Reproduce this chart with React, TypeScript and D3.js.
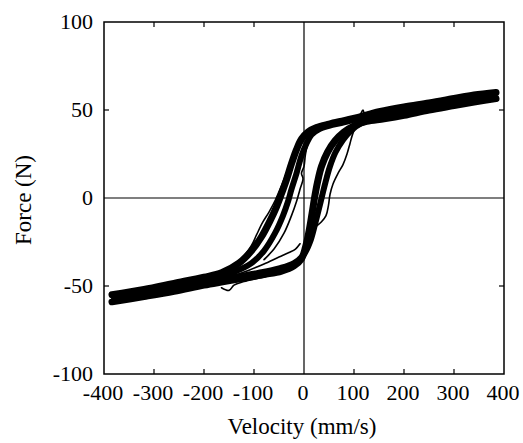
import React from "react";
import * as d3 from "d3";

type P = [number, number];

// Velocity (mm/s), Force (N) pairs
const decA: P[] = [[384,60],[340,58.5],[300,56.5],[250,54],[200,51.8],[150,49],[110,46],[80,44],[50,42],[25,40],[8,37.5],[-5,33.5],[-15,27.5],[-25,19.5],[-35,10.5],[-45,2.5],[-55,-5],[-68,-13],[-85,-22],[-105,-30],[-130,-37],[-165,-42.5],[-200,-45],[-260,-48.5],[-320,-52],[-384,-55]];
const decB: P[] = [[380,59],[300,55.5],[200,50.5],[120,46],[80,43],[50,41],[30,39],[15,36],[5,31],[-5,24],[-15,14],[-25,5],[-32,-2],[-42,-10],[-58,-20],[-80,-30],[-105,-37],[-140,-42],[-200,-46.5],[-300,-52],[-380,-56]];
const incA: P[] = [[-384,-59],[-320,-56],[-260,-53],[-200,-49.5],[-160,-47.5],[-120,-45.5],[-80,-43.5],[-45,-41.5],[-20,-38.5],[-5,-34.5],[3,-28],[10,-19],[16,-9],[21,0],[27,9],[35,18],[47,26],[62,32.5],[80,37.5],[100,41],[125,43.5],[160,45],[200,47],[250,50],[300,52.5],[340,54.5],[384,56.5]];
const incB: P[] = [[-380,-57.5],[-300,-54],[-200,-48],[-140,-45],[-90,-42.5],[-50,-40],[-20,-37],[0,-32],[12,-25],[22,-15],[30,-6],[36,1],[43,9],[52,18],[63,26],[78,33],[95,38.5],[115,42.5],[140,45],[200,48.5],[300,54],[380,57.5]];

const thinLeft: P[] = [[30,40.5],[10,37.5],[-5,33],[-17,28],[-30,18],[-45,7],[-57,-1],[-70,-8],[-83,-14],[-95,-21],[-105,-27],[-120,-33],[-140,-39],[-165,-44]];
const thinRight: P[] = [[-15,-37],[-3,-32],[5,-24],[12,-20],[23,-16.5],[35,-13.5],[44,-10],[49,-4],[52,2],[58,8],[68,14],[78,19],[86,25],[92,31],[97,36],[105,41],[120,44.5]];
const thinLow: P[] = [[-165,-51],[-150,-52.5],[-140,-49.5],[-120,-47.5],[-90,-45.5],[-60,-43.5],[-35,-41.5],[-15,-39]];
const thinInnerLow: P[] = [[-140,-44],[-110,-41],[-80,-37.5],[-50,-33.5],[-30,-31],[-17,-29],[-8,-26]];
const thinMid: P[] = [[20,38],[10,33],[3,25],[0,18],[-5,14],[-2,11],[-8,5],[-15,-2],[-25,-10],[-40,-20],[-60,-29],[-80,-35]];
const thinSpike: P[] = [[95,43],[110,46],[118,50],[122,47],[135,47]];

const xTicks = [-400, -300, -200, -100, 0, 100, 200, 300, 400];
const yTicks = [-100, -50, 0, 50, 100];

const W = 523, H = 443;
const L = 104, R = 504, T = 22, B = 374;

export default function App() {
  const x = d3.scaleLinear().domain([-400, 400]).range([L, R]);
  const y = d3.scaleLinear().domain([-100, 100]).range([B, T]);
  const line = d3.line<P>().x(d => x(d[0])).y(d => y(d[1])).curve(d3.curveCatmullRom.alpha(0.5));
  const font = "'Liberation Serif', 'Times New Roman', serif";
  const thick = [decA, decB, incA, incB];
  const widths = [7, 6, 7, 6];
  const thin = [thinLeft, thinRight, thinLow, thinInnerLow, thinMid, thinSpike];
  const tl = 5;
  return (
    <svg width={W} height={H} style={{ position: "absolute", left: 0, top: 0, background: "#fff" }}>
      <rect x={0} y={0} width={W} height={H} fill="#fff" />
      <line x1={x(0)} x2={x(0)} y1={T} y2={B} stroke="#000" strokeWidth={1.2} />
      <line x1={L} x2={R} y1={y(0)} y2={y(0)} stroke="#000" strokeWidth={1.2} />
      {thick.map((d, i) => (
        <path key={"k" + i} d={line(d) || ""} fill="none" stroke="#000" strokeWidth={widths[i]} strokeLinecap="round" strokeLinejoin="round" />
      ))}
      {thin.map((d, i) => (
        <path key={"t" + i} d={line(d) || ""} fill="none" stroke="#000" strokeWidth={1.6} strokeLinecap="round" strokeLinejoin="round" />
      ))}
      <rect x={L} y={T} width={R - L} height={B - T} fill="none" stroke="#000" strokeWidth={1.5} />
      {xTicks.filter(v => v > -400 && v < 400 && v !== 0).map(v => (
        <g key={"xt" + v}>
          <line x1={x(v)} x2={x(v)} y1={B} y2={B - tl} stroke="#000" strokeWidth={1.2} />
          <line x1={x(v)} x2={x(v)} y1={T} y2={T + tl} stroke="#000" strokeWidth={1.2} />
        </g>
      ))}
      {yTicks.filter(v => v > -100 && v < 100 && v !== 0).map(v => (
        <g key={"yt" + v}>
          <line x1={L} x2={L + tl} y1={y(v)} y2={y(v)} stroke="#000" strokeWidth={1.2} />
          <line x1={R} x2={R - tl} y1={y(v)} y2={y(v)} stroke="#000" strokeWidth={1.2} />
        </g>
      ))}
      {xTicks.map(v => (
        <text key={"xl" + v} x={x(v) - 1} y={400} textAnchor="middle" fontFamily={font} fontSize={22} fill="#000">{v}</text>
      ))}
      {yTicks.map(v => (
        <text key={"yl" + v} x={93} y={y(v) + 7} textAnchor="end" fontFamily={font} fontSize={22} fill="#000">{v}</text>
      ))}
      <text x={302} y={434} textAnchor="middle" fontFamily={font} fontSize={23} fill="#000">Velocity (mm/s)</text>
      <text transform={`translate(31,200) rotate(-90)`} textAnchor="middle" fontFamily={font} fontSize={23} fill="#000">Force (N)</text>
    </svg>
  );
}
